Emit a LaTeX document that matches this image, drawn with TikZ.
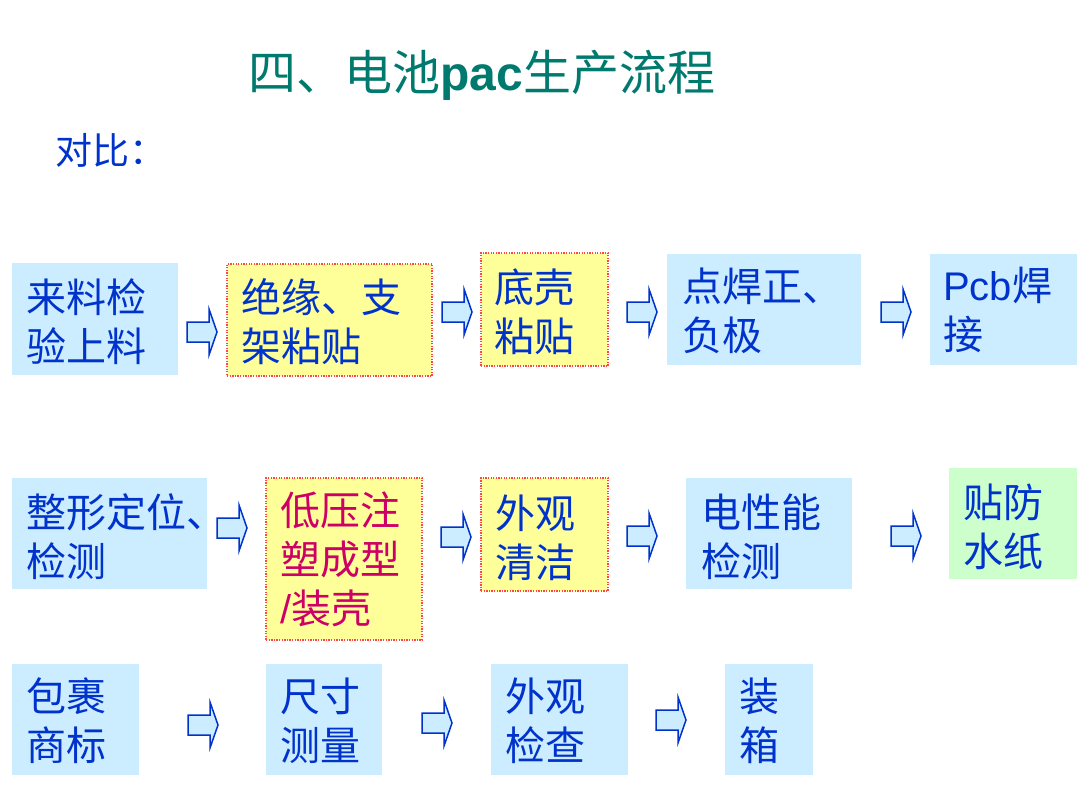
\documentclass[tikz,border=0pt]{standalone}
\usepackage{fontspec}
\newfontfamily\cjk{Noto Sans CJK SC}
\newfontfamily\arial{Liberation Sans}
\usetikzlibrary{calc,fit}
\definecolor{bfill}{RGB}{204,236,255}
\definecolor{yfill}{RGB}{255,255,153}
\definecolor{gfill}{RGB}{204,255,204}
\definecolor{dotred}{RGB}{255,70,70}
\definecolor{tblue}{RGB}{0,51,204}
\definecolor{tmag}{RGB}{204,0,102}
\definecolor{tteal}{RGB}{0,122,110}
\tikzset{
  boxbase/.style={inner sep=0pt, outer sep=0pt},
  bluebox/.style={boxbase, fill=bfill},
  yelbox/.style={boxbase, fill=yfill, draw=dotred, line width=1.3pt, dash pattern=on 1.3pt off 1.3pt},
  greenbox/.style={boxbase, fill=gfill},
  txt/.style={anchor=west, align=left, inner sep=0pt, text=tblue,
    font=\cjk\fontsize{40}{49}\selectfont},
  barrowst/.style={fill=bfill, draw=tblue, line width=1.5pt, line join=miter}
}
\newcommand\barrow[3]{%
  \coordinate (#1) at (#2,#3);
  \draw[barrowst] ($(#1)+(0,-10)$) -- ($(#1)+(22,-10)$) -- ($(#1)+(22,-23)$)
    -- ($(#1)+(30,0)$) -- ($(#1)+(22,23)$) -- ($(#1)+(22,10)$) -- ($(#1)+(0,10)$) -- cycle;}
\begin{document}
\begin{tikzpicture}[x=1pt,y=-1pt]
\useasboundingbox[fill=white] (0,0) rectangle (1080,792);

% title
\node[inner sep=0pt, text=tteal, font=\cjk\fontsize{48}{52}\selectfont] (title) at (482,75)
  {四、电池{\arial\bfseries pac}生产流程};
\node[inner sep=0pt, anchor=west, text=tblue, font=\cjk\fontsize{37}{42}\selectfont] (sub) at (55,150) {对比：};

% row 1
\node[bluebox, fit={(12,263) (178,375)}] (b1) {};
\node[yelbox, fit={(227,264) (432,376)}] (b2) {};
\node[yelbox, fit={(481,253) (608,366)}] (b3) {};
\node[bluebox, fit={(667,254) (861,365)}] (b4) {};
\node[bluebox, fit={(930,254) (1077,365)}] (b5) {};
\node[txt] (t1) at (26,322) {来料检\\验上料};
\node[txt] (t2) at (241,322) {绝缘、支\\架粘贴};
\node[txt] (t3) at (494,312) {底壳\\粘贴};
\node[txt] (t4) at (682,311) {点焊正、\\负极};
\node[txt] (t5) at (943,310) {{\arial Pcb}焊\\接};
\barrow{a1}{187}{332}
\barrow{a2}{442}{312}
\barrow{a3}{627}{312}
\barrow{a4}{881}{312}

% row 2
\node[bluebox, fit={(12,478) (207,589)}] (b6) {};
\node[yelbox, fit={(266,478) (422,640)}] (b7) {};
\node[yelbox, fit={(481,478) (608,591)}] (b8) {};
\node[bluebox, fit={(686,478) (852,589)}] (b9) {};
\node[greenbox, fit={(949,468) (1077,579)}] (b10) {};
\node[txt] (t6) at (26,537) {整形定位、\\检测};
\node[txt, text=tmag] (t7) at (280,559) {低压注\\塑成型\\{\arial /}装壳};
\node[txt] (t8) at (495,538) {外观\\清洁};
\node[txt] (t9) at (701,537) {电性能\\检测};
\node[txt] (t10) at (963,527) {贴防\\水纸};
\barrow{a5}{217}{528}
\barrow{a6}{441}{537}
\barrow{a7}{627}{536}
\barrow{a8}{891}{536}

% row 3
\node[bluebox, fit={(12,664) (139,775)}] (b11) {};
\node[bluebox, fit={(266,664) (382,775)}] (b12) {};
\node[bluebox, fit={(491,664) (628,775)}] (b13) {};
\node[bluebox, fit={(725,664) (813,775)}] (b14) {};
\node[txt] (t11) at (26,721) {包裹\\商标};
\node[txt] (t12) at (280,721) {尺寸\\测量};
\node[txt] (t13) at (505,721) {外观\\检查};
\node[txt] (t14) at (739,721) {装\\箱};
\barrow{a9}{188}{725}
\barrow{a10}{422}{723}
\barrow{a11}{656}{720}
\end{tikzpicture}
\end{document}
